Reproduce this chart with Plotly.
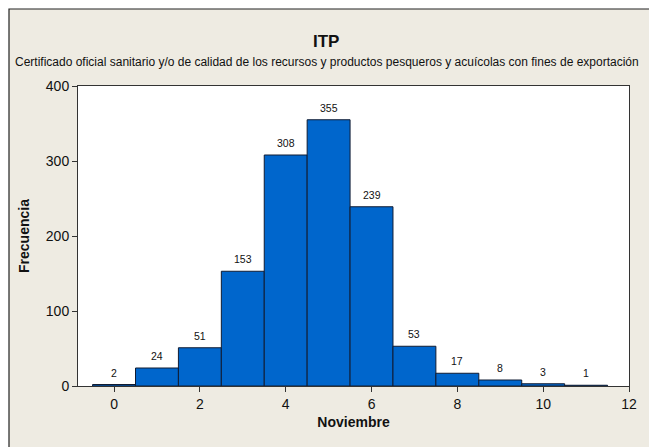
import plotly.graph_objects as go

bins = [0, 1, 2, 3, 4, 5, 6, 7, 8, 9, 10, 11]
counts = [2, 24, 51, 153, 308, 355, 239, 53, 17, 8, 3, 1]
x_ticks = [0, 2, 4, 6, 8, 10, 12]
y_ticks = [0, 100, 200, 300, 400]

title = "ITP"
subtitle = "Certificado oficial sanitario y/o de calidad de los recursos y productos pesqueros y acuícolas con fines de exportación"

W, H = 649, 447
L, R, T, B = 78, 20, 86, 61
pw, ph = W - L - R, H - T - B

def px_x(p):
    return (p - L) / pw

def px_y(p):
    return (H - B - p) / ph

FONT = "Liberation Sans"

fig = go.Figure()
fig.add_trace(go.Bar(
    x=bins, y=counts, width=1,
    marker=dict(color="#0066CC", line=dict(color="#101c33", width=1)),
    hoverinfo="skip",
))

for xv, yv in zip(bins, counts):
    fig.add_annotation(x=xv, y=yv, text=str(yv), showarrow=False,
                       yanchor="bottom", yshift=4,
                       font=dict(family=FONT, size=10.5, color="#111"))

fig.add_annotation(xref="paper", yref="paper", x=px_x(326), y=px_y(41),
                   text="<b>" + title + "</b>", showarrow=False,
                   xanchor="center", yanchor="middle",
                   font=dict(family=FONT, size=17, color="#111"))
fig.add_annotation(xref="paper", yref="paper", x=px_x(327), y=px_y(62),
                   text=subtitle, showarrow=False,
                   xanchor="center", yanchor="middle",
                   font=dict(family=FONT, size=12, color="#111"))

# outer beige frame and white plot area
fig.add_shape(type="rect", xref="paper", yref="paper", layer="below",
              x0=px_x(9), x1=px_x(700), y0=px_y(500), y1=px_y(9),
              fillcolor="#EEEBE2", line=dict(color="#222", width=1.2))
fig.add_shape(type="rect", xref="paper", yref="paper", layer="below",
              x0=0, x1=1, y0=0, y1=1, fillcolor="white", line=dict(width=0))

fig.update_layout(
    width=W, height=H,
    margin=dict(l=L, r=R, t=T, b=B),
    paper_bgcolor="white", plot_bgcolor="rgba(0,0,0,0)",
    showlegend=False, bargap=0, hovermode=False,
    font=dict(family=FONT, color="#111"),
)
fig.update_xaxes(
    range=[-0.84, 12], tickvals=x_ticks, ticktext=[str(v) for v in x_ticks],
    ticks="outside", ticklen=5, tickcolor="#333", tickfont=dict(size=14),
    showline=True, linecolor="#333", linewidth=1, mirror=True,
    showgrid=False, zeroline=False,
    title=dict(text="<b>Noviembre</b>", font=dict(size=14), standoff=6),
)
fig.update_yaxes(
    range=[0, 400], tickvals=y_ticks, ticktext=[str(v) for v in y_ticks],
    ticks="outside", ticklen=5, tickcolor="#333", tickfont=dict(size=14),
    showline=True, linecolor="#333", linewidth=1, mirror=True,
    showgrid=False, zeroline=False,
    title=dict(text="<b>Frecuencia</b>", font=dict(size=14), standoff=12),
)

fig.write_html("out.html",
               config={"displayModeBar": False, "staticPlot": True},
               post_script="document.body.style.margin='0';document.body.style.overflow='hidden';")
